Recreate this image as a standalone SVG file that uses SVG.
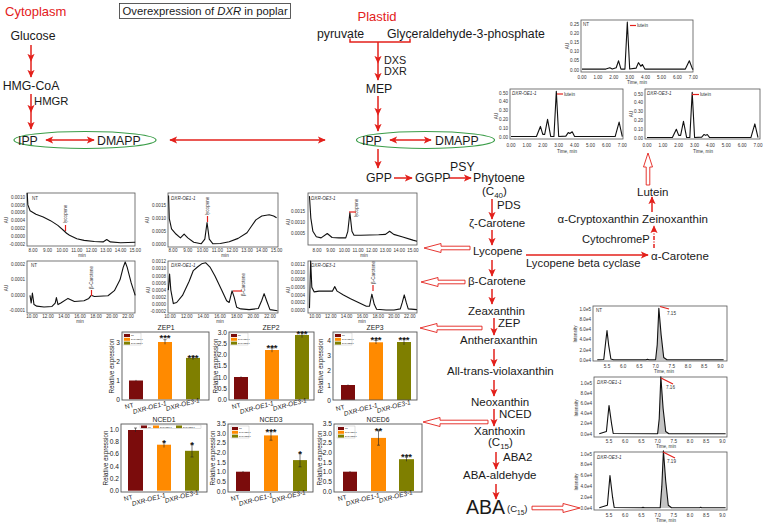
<svg xmlns="http://www.w3.org/2000/svg" xmlns:xlink="http://www.w3.org/1999/xlink" width="767" height="525" viewBox="0 0 767 525">
<style>
text{font-family:"Liberation Sans",Arial,sans-serif;fill:#1a1a1a}
.n{font-size:11.5px}
.m{font-size:12.3px}
.red{fill:#e3201b}
.c{stroke:#e3201b;stroke-width:1.5;fill:none;marker-end:url(#ah)}
.cm{marker-mid:url(#ah)}
.cs{marker-start:url(#ah)}
.hol{fill:#fff;stroke:#e3201b;stroke-width:0.9}
.box{fill:#fff;stroke:#555;stroke-width:0.8}
.tk{font-size:4.6px;fill:#333}
.tr{fill:none;stroke:#111;stroke-width:1.1;stroke-linejoin:round}
.pk{fill:#c4c4c4}
.it{font-style:italic}
.rm{stroke:#e3201b;stroke-width:1.2;fill:none}
.bt{font-size:6.8px}
.yt{font-size:6.6px}
.yl{font-size:6.3px}
.st{font-size:9.5px;font-weight:bold}
.xl{font-size:6.5px}
.lg{font-size:2.2px}
.nt{fill:#7b0c0c}.o1{fill:#ff8a00}.o3{fill:#7f7f00}
.eb{stroke:#222;stroke-width:0.6;fill:none}
.ell{fill:none;stroke:#3a9d48;stroke-width:1.2}
</style>
<defs>
<marker id="ah" viewBox="0 0 10 10" refX="9" refY="5" markerWidth="8" markerHeight="8" markerUnits="userSpaceOnUse" orient="auto-start-reverse">
<path d="M0,0.5 L10,5 L0,9.5 L2.5,5 z" fill="#e3201b"/>
</marker>
<g id="xlab">
<text class="xl" text-anchor="end" transform="translate(134,407) rotate(-15)">NT</text>
<text class="xl it" text-anchor="end" transform="translate(167,405) rotate(-15)">DXR-OE1-1</text>
<text class="xl it" text-anchor="end" transform="translate(200,402) rotate(-15)">DXR-OE3-1</text>
</g>
<g id="vleg">
<rect x="123" y="333" width="18" height="12" fill="#fff" stroke="#999" stroke-width="0.3"/>
<rect class="nt" x="124" y="334" width="6" height="3"/>
<rect class="o1" x="124" y="337.8" width="6" height="3"/>
<rect class="o3" x="124" y="341.6" width="6" height="3"/>
<text class="lg" x="131" y="336.4">NT</text>
<text class="lg" x="131" y="340.2">DXR-OE1-1</text>
<text class="lg" x="131" y="344">DXR-OE3-1</text>
</g>
</defs>
<rect width="767" height="525" fill="#fff"/>

<!-- headers -->
<g id="cytoplasm"><text x="5" y="16" class="red" font-size="13">Cytoplasm</text></g>
<g id="title"><rect x="119.5" y="3.5" width="171" height="15" fill="none" stroke="#333" stroke-width="0.8"/>
<text x="122.5" y="15" font-size="11.3">Overexpression of <tspan class="it">DXR</tspan> in poplar</text></g>
<g id="plastid"><text x="377" y="21" text-anchor="middle" class="red" font-size="13">Plastid</text></g>

<!-- connectors -->
<g id="connectors">
<path class="c cm" d="M31,45 L31,61 L31,77"/>
<path class="c cm" d="M31,94 L31,112 L31,129"/>
<path class="c cs" d="M46,140 H94"/>
<path class="c cs" d="M170,140 H325"/>
<path d="M350,38.5 V42 H410 V38.5" stroke="#e3201b" stroke-width="1.5" fill="none"/>
<path class="c cm" d="M378,42 L378,63 L378,80"/>
<path class="c cm" d="M378,96 L378,115 L378,131"/>
<path class="c cs" d="M390,140 H431"/>
<path class="c" d="M378,149 V168"/>
<path class="c" d="M394,178 H412"/>
<path class="c" d="M449,178 H471"/>
<path class="c" d="M492,199 V219"/>
<path class="c" d="M492,230 V245"/>
<path class="c" d="M492,260 V276"/>
<path class="c" d="M492,289 V304"/>
<path class="c" d="M494,318 V335"/>
<path class="c" d="M494,349 V366"/>
<path class="c" d="M494,380 V396"/>
<path class="c" d="M494,409 V426"/>
<path class="c" d="M496,452 V469"/>
<path class="c" d="M496,484 V499"/>
<path class="c" d="M526,255 H648"/>
<path class="c" d="M654,248 V226" stroke-dasharray="4,1.5,1,1.5"/>
<path class="c" d="M652,212 V197"/>
<polygon class="hol" points="470,246.2 441,246.2 441,243.5 424,248 441,252.5 441,249.8 470,249.8"/>
<polygon class="hol" points="465,280.2 438,280.2 438,277.5 421,282 438,286.5 438,283.8 465,283.8"/>
<polygon class="hol" points="482,326.2 437,326.2 437,323.5 420,328 437,332.5 437,329.8 482,329.8"/>
<polygon class="hol" points="488,420.2 440,420.2 440,417.5 423,422 440,426.5 440,423.8 488,423.8"/>
<polygon class="hol" points="532,506.2 563,506.2 563,503.5 580,508 563,512.5 563,509.8 532,509.8"/>
<polygon class="hol" points="646.2,185 646.2,167 643.5,167 648,153 652.5,167 649.8,167 649.8,185"/>
</g>

<!-- pathway nodes -->
<g id="n-glucose"><text class="m" x="33" y="40" text-anchor="middle">Glucose</text></g>
<g id="n-hmgcoa"><text class="m" x="31" y="90" text-anchor="middle">HMG-CoA</text></g>
<g id="n-hmgr"><text x="34" y="105" font-size="11.3">HMGR</text></g>
<g id="n-cyto-ipp"><ellipse class="ell" cx="85" cy="140" rx="71" ry="8.5"/>
<text class="m" x="18" y="145">IPP</text><text class="m" x="97" y="145">DMAPP</text></g>
<g id="n-pyruvate"><text class="m" x="317" y="38">pyruvate</text></g>
<g id="n-g3p"><text class="m" x="387" y="38">Glyceraldehyde-3-phosphate</text></g>
<g id="n-dxs"><text x="384" y="64" font-size="10.8">DXS</text><text x="384" y="75" font-size="10.8">DXR</text></g>
<g id="n-mep"><text class="m" x="379" y="93" text-anchor="middle">MEP</text></g>
<g id="n-pl-ipp"><ellipse class="ell" cx="425.5" cy="140" rx="69" ry="8.5"/>
<text class="m" x="362" y="145">IPP</text><text class="m" x="435" y="145">DMAPP</text></g>
<g id="n-gpp"><text class="m" x="366" y="182">GPP</text></g>
<g id="n-ggpp"><text class="m" x="415" y="182">GGPP</text></g>
<g id="n-psy"><text class="m" x="450" y="171">PSY</text></g>
<g id="n-phytoene"><text class="m" x="473" y="182">Phytoene</text>
<text class="n" x="482" y="195">(C<tspan font-size="8" dy="3">40</tspan><tspan dy="-3">)</tspan></text></g>
<g id="n-pds"><text class="n" x="497" y="209">PDS</text></g>
<g id="n-zcar"><text class="n" x="469" y="227">ζ-Carotene</text></g>
<g id="n-lycopene"><text class="n" x="473" y="255">Lycopene</text></g>
<g id="n-lcy"><text x="526" y="267" font-size="11.3">Lycopene beta cyclase</text></g>
<g id="n-acar"><text class="n" x="651" y="259.5">α-Carotene</text></g>
<g id="n-cyp"><text x="582" y="243" font-size="11.2">CytochromeP</text></g>
<g id="n-acrypt"><text class="n" x="639" y="223" text-anchor="end">α-Cryptoxanthin</text></g>
<g id="n-zein"><text class="n" x="642" y="223">Zeinoxanthin</text></g>
<g id="n-lutein"><text class="n" x="637" y="196">Lutein</text></g>
<g id="n-bcar"><text class="n" x="468" y="285">β-Carotene</text></g>
<g id="n-zea"><text class="n" x="468" y="315">Zeaxanthin</text></g>
<g id="n-zep"><text class="n" x="498" y="327">ZEP</text></g>
<g id="n-anth"><text class="n" x="460" y="344">Antheraxanthin</text></g>
<g id="n-viola"><text class="n" x="447" y="375">All-trans-violaxanthin</text></g>
<g id="n-neox"><text class="n" x="471" y="406">Neoxanthin</text></g>
<g id="n-nced"><text class="n" x="499" y="418">NCED</text></g>
<g id="n-xanth"><text class="n" x="474" y="435">Xanthoxin</text>
<text class="n" x="488" y="446">(C<tspan font-size="8" dy="3">15</tspan><tspan dy="-3">)</tspan></text></g>
<g id="n-aba2"><text class="n" x="503" y="461">ABA2</text></g>
<g id="n-abaald"><text class="n" x="463" y="479">ABA-aldehyde</text></g>
<g id="n-aba"><text x="466" y="514" font-size="19.5">ABA</text>
<text x="507" y="512" font-size="9.5">(C<tspan font-size="6.5" dy="2.5">15</tspan><tspan dy="-2.5">)</tspan></text></g>

<!-- lutein chromatograms -->
<g id="lut-nt">
<rect class="box" x="581" y="20" width="112" height="52"/>
<g transform="translate(582,70) scale(15.9,-184)"><polyline class="tr" vector-effect="non-scaling-stroke" points="0,0.005 1.5,0.005 1.75,0.012 1.9,0.005 2.15,0.012 2.3,0.05 2.45,0.005 2.7,0.005 2.85,0.26 3,0.005 3.4,0.01 3.55,0.04 3.7,0.02 3.8,0.03 3.95,0.005 6.5,0.005 6.75,0.05 6.95,0.005 7,0.005"/></g>
<g text-anchor="end"><text class="tk" x="579" y="25.6">0.25</text><text class="tk" x="579" y="34.8">0.20</text><text class="tk" x="579" y="44">0.15</text><text class="tk" x="579" y="53.2">0.10</text><text class="tk" x="579" y="62.4">0.05</text><text class="tk" x="579" y="71.6">0.00</text></g>
<g text-anchor="middle"><text class="tk" x="582" y="79">0.00</text><text class="tk" x="597.9" y="79">1.00</text><text class="tk" x="613.8" y="79">2.00</text><text class="tk" x="629.7" y="79">3.00</text><text class="tk" x="645.6" y="79">4.00</text><text class="tk" x="661.5" y="79">5.00</text><text class="tk" x="677.4" y="79">6.00</text><text class="tk" x="693.3" y="79">7.00</text>
<text class="tk" x="637" y="84">Time, min</text>
<text class="tk" transform="translate(569,46) rotate(-90)">AU</text></g>
<text class="tk" x="583" y="25.5">NT</text>
<path class="rm" d="M630,25.5 H636"/><text class="tk" x="637" y="27.3">lutein</text>
</g>
<g id="lut-oe1">
<rect class="box" x="510" y="89" width="113" height="50"/>
<g transform="translate(511,137) scale(15.9,-88)"><polyline class="tr" vector-effect="non-scaling-stroke" points="0,0.005 1.6,0.005 1.85,0.12 2,0.03 2.12,0.03 2.3,0.2 2.5,0.005 2.7,0.005 2.85,0.52 3,0.005 3.45,0.01 3.6,0.05 3.7,0.04 3.85,0.06 4,0.005 6.55,0.005 6.8,0.17 7,0.005"/></g>
<g text-anchor="end"><text class="tk" x="508" y="94.6">0.50</text><text class="tk" x="508" y="103.4">0.40</text><text class="tk" x="508" y="112.2">0.30</text><text class="tk" x="508" y="121">0.20</text><text class="tk" x="508" y="129.8">0.10</text><text class="tk" x="508" y="138.6">0.00</text></g>
<g text-anchor="middle"><text class="tk" x="511" y="147">0.00</text><text class="tk" x="526.9" y="147">1.00</text><text class="tk" x="542.8" y="147">2.00</text><text class="tk" x="558.7" y="147">3.00</text><text class="tk" x="574.6" y="147">4.00</text><text class="tk" x="590.5" y="147">5.00</text><text class="tk" x="606.4" y="147">6.00</text><text class="tk" x="622.3" y="147">7.00</text>
<text class="tk" x="567" y="152.5">Time, min</text>
<text class="tk" transform="translate(498,116) rotate(-90)">AU</text></g>
<text class="tk it" x="512" y="94.5">DXR-OE1-1</text>
<path class="rm" d="M557,94 H563"/><text class="tk" x="564" y="95.8">lutein</text>
</g>
<g id="lut-oe3">
<rect class="box" x="645" y="89" width="115" height="50"/>
<g transform="translate(647,138) scale(15.86,-88)"><polyline class="tr" vector-effect="non-scaling-stroke" points="0,0.005 1.6,0.005 1.85,0.1 2,0.03 2.12,0.03 2.3,0.19 2.5,0.005 2.7,0.005 2.85,0.52 3,0.005 3.45,0.01 3.6,0.04 3.7,0.03 3.8,0.04 3.95,0.005 6.55,0.005 6.8,0.16 7,0.005"/></g>
<g text-anchor="end"><text class="tk" x="643" y="95.6">0.50</text><text class="tk" x="643" y="104.4">0.40</text><text class="tk" x="643" y="113.2">0.30</text><text class="tk" x="643" y="122">0.20</text><text class="tk" x="643" y="130.8">0.10</text><text class="tk" x="643" y="139.6">0.00</text></g>
<g text-anchor="middle"><text class="tk" x="647" y="147">0.00</text><text class="tk" x="662.9" y="147">1.00</text><text class="tk" x="678.7" y="147">2.00</text><text class="tk" x="694.6" y="147">3.00</text><text class="tk" x="710.4" y="147">4.00</text><text class="tk" x="726.3" y="147">5.00</text><text class="tk" x="742.2" y="147">6.00</text><text class="tk" x="758" y="147">7.00</text>
<text class="tk" x="703" y="152.5">Time, min</text>
<text class="tk" transform="translate(633,114) rotate(-90)">AU</text></g>
<text class="tk it" x="647" y="94.5">DXR-OE3-1</text>
<path class="rm" d="M692,94.5 H699"/><text class="tk" x="700" y="96.3">lutein</text>
</g>

<!-- lycopene chromatograms -->
<g id="lyc-nt">
<rect class="box" x="27" y="193" width="108" height="53"/>
<g transform="translate(-83.8,236.4) scale(14.6,-3.94)"><polyline class="tr" vector-effect="non-scaling-stroke" points="7.6,11 7.65,8 7.8,6.5 8.2,5.6 8.7,4.9 9.2,4 9.7,2.8 10.1,1.5 10.3,0.8 10.5,0.3 11,-0.6 11.5,-1 12.2,-1.3 12.8,-1.4 13.05,-0.8 13.3,-1.4 14,-1.6 15,-1.5"/></g>
<g text-anchor="end"><text class="tk" x="25" y="198.6">0.0010</text><text class="tk" x="25" y="206.5">0.0008</text><text class="tk" x="25" y="214.4">0.0006</text><text class="tk" x="25" y="222.2">0.0004</text><text class="tk" x="25" y="230.1">0.0002</text><text class="tk" x="25" y="238">0.0000</text><text class="tk" x="25" y="245.9">-0.0002</text></g>
<g text-anchor="middle"><text class="tk" x="33" y="251.5">8.00</text><text class="tk" x="47.6" y="251.5">9.00</text><text class="tk" x="62.2" y="251.5">10.00</text><text class="tk" x="76.8" y="251.5">11.00</text><text class="tk" x="91.4" y="251.5">12.00</text><text class="tk" x="106" y="251.5">13.00</text><text class="tk" x="120.6" y="251.5">14.00</text><text class="tk" x="135.2" y="251.5">15.00</text>
<text class="tk" x="82" y="256.5">min</text>
<text class="tk" transform="translate(8,220) rotate(-90)">AU</text></g>
<text class="tk" x="32" y="199.5">NT</text>
<text class="tk" transform="translate(67,223) rotate(-90)">lycopene</text>
<path class="rm" d="M65.5,225 V231"/>
</g>
<g id="lyc-oe1">
<rect class="box" x="168" y="193" width="110" height="54"/>
<g transform="translate(54.6,244.3) scale(14.8,-2.57)"><polyline class="tr" vector-effect="non-scaling-stroke" points="7.7,19 7.75,10 7.9,6 8.2,4 8.5,2.5 8.75,4 9,2.5 9.4,0.8 9.9,0.2 10.15,2 10.3,8.5 10.45,2 10.7,0.2 11.2,0.3 11.8,1 12.4,2.3 13,4.5 13.3,7 13.6,9.5 14,11 14.5,11.5 14.8,11 15,10.3"/></g>
<g text-anchor="end"><text class="tk" x="166" y="207.4">0.0015</text><text class="tk" x="166" y="220.2">0.0010</text><text class="tk" x="166" y="233.1">0.0005</text><text class="tk" x="166" y="245.9">0.0000</text></g>
<g text-anchor="middle"><text class="tk" x="173" y="252">8.00</text><text class="tk" x="187.8" y="252">9.00</text><text class="tk" x="202.6" y="252">10.00</text><text class="tk" x="217.4" y="252">11.00</text><text class="tk" x="232.2" y="252">12.00</text><text class="tk" x="247" y="252">13.00</text><text class="tk" x="261.8" y="252">14.00</text><text class="tk" x="276.6" y="252">15.00</text>
<text class="tk" x="225" y="257">min</text>
<text class="tk" transform="translate(149,220) rotate(-90)">AU</text></g>
<text class="tk it" x="171" y="199.5">DXR-OE1-1</text>
<text class="tk" transform="translate(209,215) rotate(-90)">lycopene</text>
<path class="rm" d="M207.5,216 V222"/>
</g>
<g id="lyc-oe3">
<rect class="box" x="308" y="193" width="109" height="52"/>
<g transform="translate(207.4,244.5) scale(13.7,-2.2)"><polyline class="tr" vector-effect="non-scaling-stroke" points="7.45,22 7.55,12 7.7,6 7.95,3.5 8.3,3 8.75,5 9.1,3.2 9.6,3 10.1,3 10.25,6 10.4,14.5 10.55,6 10.7,4.2 11.2,4.2 12.5,4.4 13,4.6 13.3,6 13.6,4.6 14.2,3.5 15,2 15.3,1.5"/></g>
<g text-anchor="end"><text class="tk" x="305" y="213.1">0.0015</text><text class="tk" x="305" y="224.1">0.0010</text><text class="tk" x="305" y="235.1">0.0005</text></g>
<g text-anchor="middle"><text class="tk" x="317" y="252">8.00</text><text class="tk" x="330.7" y="252">9.00</text><text class="tk" x="344.4" y="252">10.00</text><text class="tk" x="358.1" y="252">11.00</text><text class="tk" x="371.8" y="252">12.00</text><text class="tk" x="385.5" y="252">13.00</text><text class="tk" x="399.2" y="252">14.00</text><text class="tk" x="412.9" y="252">15.00</text>
<text class="tk" x="364" y="257">min</text>
<text class="tk" transform="translate(290,222) rotate(-90)">AU</text></g>
<text class="tk it" x="311" y="199.5">DXR-OE3-1</text>
<text class="tk" transform="translate(358,217) rotate(-90)">lycopene</text>
<path class="rm" d="M349,212 H356"/>
</g>

<!-- beta-carotene chromatograms -->
<g id="bc-nt">
<rect class="box" x="27" y="261" width="108" height="52"/>
<g transform="translate(-48,295.3) scale(8,-1.55)"><polyline class="tr" vector-effect="non-scaling-stroke" points="9.75,0 9.9,-5 10.05,1.5 10.25,-6 10.6,-7 11.5,-7.5 12.5,-7.2 12.9,-5 13.05,-1.5 13.25,-6 13.6,-5 14.5,-2 15.3,-4 16.5,-3.5 17.1,-2 17.4,0 17.8,-0.8 19.5,-0.3 20.3,3 21,10 21.4,18 21.65,21.5 21.9,18 22.4,8 22.9,0"/></g>
<g text-anchor="end"><text class="tk" x="25" y="265.9">0.0002</text><text class="tk" x="25" y="281.4">0.0001</text><text class="tk" x="25" y="296.9">0.0000</text><text class="tk" x="25" y="312.4">-0.0001</text></g>
<g text-anchor="middle"><text class="tk" x="32" y="318">10.00</text><text class="tk" x="48" y="318">12.00</text><text class="tk" x="64" y="318">14.00</text><text class="tk" x="80" y="318">16.00</text><text class="tk" x="96" y="318">18.00</text><text class="tk" x="112" y="318">20.00</text><text class="tk" x="128" y="318">22.00</text>
<text class="tk" x="80" y="323">min</text>
<text class="tk" transform="translate(8,288) rotate(-90)">AU</text></g>
<text class="tk" x="31" y="267">NT</text>
<text class="tk" transform="translate(93,289) rotate(-90)">β-Carotene</text>
<path class="rm" d="M91.5,290 V296"/>
</g>
<g id="bc-oe1">
<rect class="box" x="168" y="261" width="110" height="52"/>
<g transform="translate(86.7,304.3) scale(8.33,-3.55)"><polyline class="tr" vector-effect="non-scaling-stroke" points="9.8,4 9.95,8.5 10.1,4 10.4,0.2 10.8,0.5 11.5,2.5 12.3,6.5 12.8,9.5 13.3,10.5 13.8,11.4 14.3,11.7 14.8,10.5 15.4,8 16.2,4 16.8,1 17.1,0.5 17.45,3.8 17.7,2 18,-0.8 18.5,-1.3 19.5,-1.5 20.6,-1.2 21,1 21.3,3 21.6,1 22,-1.5 22.9,-1.8"/></g>
<g text-anchor="end"><text class="tk" x="166" y="263.3">0.0012</text><text class="tk" x="166" y="270.4">0.0010</text><text class="tk" x="166" y="277.5">0.0008</text><text class="tk" x="166" y="284.6">0.0006</text><text class="tk" x="166" y="291.7">0.0004</text><text class="tk" x="166" y="298.8">0.0002</text><text class="tk" x="166" y="305.9">0.0000</text><text class="tk" x="166" y="313">-0.0002</text></g>
<g text-anchor="middle"><text class="tk" x="170" y="318">10.00</text><text class="tk" x="186.7" y="318">12.00</text><text class="tk" x="203.3" y="318">14.00</text><text class="tk" x="220" y="318">16.00</text><text class="tk" x="236.7" y="318">18.00</text><text class="tk" x="253.3" y="318">20.00</text><text class="tk" x="270" y="318">22.00</text>
<text class="tk" x="220" y="323">min</text>
<text class="tk" transform="translate(150,290) rotate(-90)">AU</text></g>
<text class="tk it" x="171" y="267">DXR-OE1-1</text>
<text class="tk" transform="translate(245,296) rotate(-90)">β-Carotene</text>
<path class="rm" d="M233,291 H242"/>
</g>
<g id="bc-oe3">
<rect class="box" x="308" y="261" width="109" height="52"/>
<g transform="translate(236,310) scale(7.9,-3.77)"><polyline class="tr" vector-effect="non-scaling-stroke" points="9.3,0.5 9.45,13 9.6,6 9.9,4.8 10.5,5 11.5,5 12.2,5 12.5,6.2 12.8,5 13.6,4 14.5,3 15.5,2 16.5,1 16.9,1 17.2,4.2 17.5,1.5 17.8,0.2 19,0 20,0 20.8,0.3 21.05,2 21.3,4 21.55,2 21.8,0.3 22.9,0.1"/></g>
<g text-anchor="end"><text class="tk" x="305" y="266.4">0.0012</text><text class="tk" x="305" y="273.9">0.0010</text><text class="tk" x="305" y="281.4">0.0008</text><text class="tk" x="305" y="289">0.0006</text><text class="tk" x="305" y="296.5">0.0004</text><text class="tk" x="305" y="304.1">0.0002</text><text class="tk" x="305" y="311.6">0.0000</text></g>
<g text-anchor="middle"><text class="tk" x="315" y="318">10.00</text><text class="tk" x="330.8" y="318">12.00</text><text class="tk" x="346.6" y="318">14.00</text><text class="tk" x="362.4" y="318">16.00</text><text class="tk" x="378.2" y="318">18.00</text><text class="tk" x="394" y="318">20.00</text><text class="tk" x="409.8" y="318">22.00</text>
<text class="tk" x="362" y="323">min</text>
<text class="tk" transform="translate(290,290) rotate(-90)">AU</text></g>
<text class="tk it" x="311" y="267">DXR-OE3-1</text>
<text class="tk" transform="translate(375,284) rotate(-90)">β-Carotene</text>
<path class="rm" d="M373,285 V291"/>
</g>

<!-- ABA chromatograms -->
<g id="aba-nt">
<rect class="box" x="593" y="306" width="134" height="55"/>
<g transform="translate(428.8,360) scale(32.4,-50.7)"><polygon class="pk" points="7,0 7.05,0.3 7.1,1.02 7.17,0.5 7.25,0.05 7.35,0"/><polyline class="tr" vector-effect="non-scaling-stroke" points="5.2,0.005 5.4,0.01 5.45,0.3 5.5,0.58 5.55,0.3 5.62,0.02 5.7,0.005 6.7,0.005 6.75,0.015 6.8,0.005 7,0.005 7.05,0.3 7.1,1.02 7.17,0.5 7.25,0.05 7.35,0.005 9.1,0.005"/></g>
<g text-anchor="end"><text class="tk" x="591" y="310.9">1.0e5</text><text class="tk" x="591" y="321">8.0e4</text><text class="tk" x="591" y="331.2">6.0e4</text><text class="tk" x="591" y="341.3">4.0e4</text><text class="tk" x="591" y="351.5">2.0e4</text><text class="tk" x="591" y="361.6">0.0e4</text></g>
<g text-anchor="middle"><text class="tk" x="607" y="367.5">5.5</text><text class="tk" x="623.2" y="367.5">6.0</text><text class="tk" x="639.4" y="367.5">6.5</text><text class="tk" x="655.6" y="367.5">7.0</text><text class="tk" x="671.8" y="367.5">7.5</text><text class="tk" x="688" y="367.5">8.0</text><text class="tk" x="704.2" y="367.5">8.5</text><text class="tk" x="720.4" y="367.5">9.0</text>
<text class="tk" x="664" y="372.5">Time, min</text>
<text class="tk" transform="translate(577,334) rotate(-90)">Intensity</text></g>
<text class="tk" x="596" y="312">NT</text>
<path class="rm" d="M660,306.5 L669,309"/><text class="tk" x="667" y="314.5">7.15</text>
</g>
<g id="aba-oe1">
<rect class="box" x="594" y="377" width="133" height="60"/>
<g transform="translate(430.8,434) scale(32.4,-51)"><polygon class="pk" points="7,0 7.05,0.3 7.1,1.12 7.17,0.5 7.25,0.05 7.35,0"/><polyline class="tr" vector-effect="non-scaling-stroke" points="5.2,0.005 5.42,0.05 5.5,0.56 5.58,0.2 5.63,0.01 7,0.005 7.05,0.3 7.1,1.12 7.17,0.5 7.25,0.05 7.35,0.005 9.1,0.005"/></g>
<g text-anchor="end"><text class="tk" x="592" y="384.6">1.0e5</text><text class="tk" x="592" y="394.8">8.0e4</text><text class="tk" x="592" y="405">6.0e4</text><text class="tk" x="592" y="415.2">4.0e4</text><text class="tk" x="592" y="425.4">2.0e4</text><text class="tk" x="592" y="435.6">0.0e4</text></g>
<g text-anchor="middle"><text class="tk" x="609" y="443">5.5</text><text class="tk" x="625.2" y="443">6.0</text><text class="tk" x="641.4" y="443">6.5</text><text class="tk" x="657.6" y="443">7.0</text><text class="tk" x="673.8" y="443">7.5</text><text class="tk" x="690" y="443">8.0</text><text class="tk" x="706.2" y="443">8.5</text><text class="tk" x="722.4" y="443">9.0</text>
<text class="tk" x="666" y="448">Time, min</text>
<text class="tk" transform="translate(578,408) rotate(-90)">Intensity</text></g>
<text class="tk it" x="597" y="384">DXR-OE1-1</text>
<path class="rm" d="M661,378 L673,384"/><text class="tk" x="666" y="388.5">7.16</text>
</g>
<g id="aba-oe3">
<rect class="box" x="594" y="452" width="133" height="58"/>
<g transform="translate(430.8,508) scale(32.4,-54)"><polygon class="pk" points="7.08,0 7.13,0.4 7.18,1.06 7.25,0.5 7.33,0.05 7.43,0"/><polyline class="tr" vector-effect="non-scaling-stroke" points="5.2,0.005 5.45,0.05 5.53,0.6 5.61,0.2 5.66,0.01 6.5,0.005 6.55,0.012 6.6,0.005 7.08,0.005 7.13,0.4 7.18,1.06 7.25,0.5 7.33,0.05 7.43,0.005 8.3,0.005 8.33,0.015 8.36,0.005 9.1,0.005"/></g>
<g text-anchor="end"><text class="tk" x="592" y="455.6">1.0e5</text><text class="tk" x="592" y="466.4">8.0e4</text><text class="tk" x="592" y="477.2">6.0e4</text><text class="tk" x="592" y="488">4.0e4</text><text class="tk" x="592" y="498.8">2.0e4</text><text class="tk" x="592" y="509.6">0.0e4</text></g>
<g text-anchor="middle"><text class="tk" x="609" y="516.5">5.5</text><text class="tk" x="625.2" y="516.5">6.0</text><text class="tk" x="641.4" y="516.5">6.5</text><text class="tk" x="657.6" y="516.5">7.0</text><text class="tk" x="673.8" y="516.5">7.5</text><text class="tk" x="690" y="516.5">8.0</text><text class="tk" x="706.2" y="516.5">8.5</text><text class="tk" x="722.4" y="516.5">9.0</text>
<text class="tk" x="666" y="521.5">Time, min</text>
<text class="tk" transform="translate(578,482) rotate(-90)">Intensity</text></g>
<text class="tk it" x="597" y="458.5">DXR-OE3-1</text>
<path class="rm" d="M663,452 L675,458"/><text class="tk" x="667" y="463">7.19</text>
</g>

<!-- bar charts -->
<g id="zep1">
<text class="bt" x="166" y="329.5" text-anchor="middle">ZEP1</text>
<rect x="129" y="380.5" width="14" height="18.8" class="nt"/>
<rect x="158" y="342" width="14" height="57.3" class="o1"/>
<rect x="186" y="357.9" width="14" height="41.4" class="o3"/>
<path class="eb" d="M136,379.9V381.1M165,339.7V344.3M163.5,339.7H166.5M193,356V359.8M191.5,356H194.5"/>
<rect x="122" y="332" width="87" height="68" fill="none" stroke="#555" stroke-width="0.9"/>
<use href="#vleg"/>
<g text-anchor="end"><text class="yt" x="120" y="401.8">0</text><text class="yt" x="120" y="383">1</text><text class="yt" x="120" y="364.2">2</text><text class="yt" x="120" y="345.4">3</text></g>
<text class="st" x="165" y="341" text-anchor="middle">***</text><text class="st" x="193" y="361" text-anchor="middle">***</text>
<text class="yl" transform="translate(114,366) rotate(-90)" text-anchor="middle">Relative expression</text>
<use href="#xlab"/>
</g>
<g id="zep2">
<text class="bt" x="271" y="329.5" text-anchor="middle">ZEP2</text>
<rect x="234" y="377" width="14" height="22.3" class="nt"/>
<rect x="265" y="350" width="14" height="49.3" class="o1"/>
<rect x="295" y="335" width="14" height="64.3" class="o3"/>
<path class="eb" d="M241,376.3V377.7M272,347.8V352.2M270.5,347.8H273.5M302,332.3V337.7M300.5,332.3H303.5"/>
<rect x="229" y="332" width="85" height="68" fill="none" stroke="#555" stroke-width="0.9"/>
<use href="#vleg" x="107"/>
<g text-anchor="end"><text class="yt" x="227" y="401.8">0.0</text><text class="yt" x="227" y="390.7">0.5</text><text class="yt" x="227" y="379.5">1.0</text><text class="yt" x="227" y="368.4">1.5</text><text class="yt" x="227" y="357.2">2.0</text><text class="yt" x="227" y="346.1">2.5</text><text class="yt" x="227" y="334.9">3.0</text></g>
<text class="st" x="272" y="350.5" text-anchor="middle">***</text><text class="st" x="302" y="337" text-anchor="middle">***</text>
<text class="yl" transform="translate(218,366) rotate(-90)" text-anchor="middle">Relative expression</text>
<use href="#xlab" x="107"/>
</g>
<g id="zep3">
<text class="bt" x="375" y="329.5" text-anchor="middle">ZEP3</text>
<rect x="341" y="385" width="14" height="15" class="nt"/>
<rect x="369" y="342.3" width="14" height="57.7" class="o1"/>
<rect x="397" y="342" width="14" height="58" class="o3"/>
<path class="eb" d="M348,384.4V385.6M376,340.5V344M374.5,340.5H377.5M404,339V345M402.5,339H405.5"/>
<rect x="333" y="332" width="84" height="68" fill="none" stroke="#555" stroke-width="0.9"/>
<use href="#vleg" x="211"/>
<g text-anchor="end"><text class="yt" x="331" y="402.5">0</text><text class="yt" x="331" y="387.5">1</text><text class="yt" x="331" y="372.5">2</text><text class="yt" x="331" y="357.5">3</text><text class="yt" x="331" y="342.5">4</text></g>
<text class="st" x="376" y="343" text-anchor="middle">***</text><text class="st" x="404" y="343" text-anchor="middle">***</text>
<text class="yl" transform="translate(323,366) rotate(-90)" text-anchor="middle">Relative expression</text>
<use href="#xlab" x="211" y="2"/>
</g>
<g id="nced1">
<text class="bt" x="164" y="421.5" text-anchor="middle">NCED1</text>
<rect x="128" y="430" width="15" height="60.7" class="nt"/>
<rect x="157" y="444.7" width="14" height="46" class="o1"/>
<rect x="185" y="450.8" width="14" height="39.9" class="o3"/>
<path class="eb" d="M135.5,428V432M134,428H137M164,442V447.5M162.5,442H165.5M192,444.6V457M190.5,444.6H193.5M190.5,457H193.5"/>
<rect x="121" y="424" width="86" height="68" fill="none" stroke="#555" stroke-width="0.9"/>
<rect x="140" y="425" width="61" height="3.6" fill="#fff" stroke="#999" stroke-width="0.3"/>
<rect class="nt" x="141" y="425.5" width="6" height="2.6"/><text class="lg" x="148" y="427.6">NT</text>
<rect class="o1" x="153" y="425.5" width="6" height="2.6"/><text class="lg" x="160" y="427.6">DXR-OE1-1</text>
<rect class="o3" x="176" y="425.5" width="6" height="2.6"/><text class="lg" x="183" y="427.6">DXR-OE3-1</text>
<g text-anchor="end"><text class="yt" x="119" y="493.2">0.0</text><text class="yt" x="119" y="480.9">0.2</text><text class="yt" x="119" y="468.6">0.4</text><text class="yt" x="119" y="456.4">0.6</text><text class="yt" x="119" y="444.1">0.8</text><text class="yt" x="119" y="431.8">1.0</text></g>
<text class="st" x="164" y="446" text-anchor="middle">*</text><text class="st" x="192" y="448" text-anchor="middle">*</text>
<text class="yl" transform="translate(108,458) rotate(-90)" text-anchor="middle">Relative expression</text>
<use href="#xlab" x="-1" y="92"/>
</g>
<g id="nced3">
<text class="bt" x="271" y="421.5" text-anchor="middle">NCED3</text>
<rect x="236" y="471.7" width="14" height="19.3" class="nt"/>
<rect x="264" y="435.4" width="14" height="55.6" class="o1"/>
<rect x="293" y="460.1" width="14" height="30.9" class="o3"/>
<path class="eb" d="M243,471V472.4M271,430.6V440.2M269.5,430.6H272.5M269.5,440.2H272.5M300,453.3V466.8M298.5,453.3H301.5M298.5,466.8H301.5"/>
<rect x="228" y="424" width="85" height="68" fill="none" stroke="#555" stroke-width="0.9"/>
<use href="#vleg" x="108" y="93"/>
<g text-anchor="end"><text class="yt" x="226" y="493.5">0.0</text><text class="yt" x="226" y="483.9">0.5</text><text class="yt" x="226" y="474.2">1.0</text><text class="yt" x="226" y="464.6">1.5</text><text class="yt" x="226" y="454.9">2.0</text><text class="yt" x="226" y="445.3">2.5</text><text class="yt" x="226" y="435.6">3.0</text><text class="yt" x="226" y="425.9">3.5</text></g>
<text class="st" x="271" y="435" text-anchor="middle">***</text><text class="st" x="300" y="457" text-anchor="middle">*</text>
<text class="yl" transform="translate(215,458) rotate(-90)" text-anchor="middle">Relative expression</text>
<use href="#xlab" x="106" y="92"/>
</g>
<g id="nced6">
<text class="bt" x="378" y="421.5" text-anchor="middle">NCED6</text>
<rect x="343" y="471.7" width="14" height="19.3" class="nt"/>
<rect x="371" y="437.9" width="15" height="53.1" class="o1"/>
<rect x="399" y="459.2" width="15" height="31.8" class="o3"/>
<path class="eb" d="M350,471V472.4M378.5,430.6V445.2M377,430.6H380M377,445.2H380M406.5,457V461.3M405,457H408"/>
<rect x="334" y="424" width="88" height="68" fill="none" stroke="#555" stroke-width="0.9"/>
<use href="#vleg" x="214" y="93"/>
<g text-anchor="end"><text class="yt" x="332" y="493.5">0.0</text><text class="yt" x="332" y="483.9">0.5</text><text class="yt" x="332" y="474.2">1.0</text><text class="yt" x="332" y="464.6">1.5</text><text class="yt" x="332" y="454.9">2.0</text><text class="yt" x="332" y="445.3">2.5</text><text class="yt" x="332" y="435.6">3.0</text><text class="yt" x="332" y="425.9">3.5</text></g>
<text class="st" x="378.5" y="434" text-anchor="middle">**</text><text class="st" x="406.5" y="460" text-anchor="middle">***</text>
<text class="yl" transform="translate(322,458) rotate(-90)" text-anchor="middle">Relative expression</text>
<use href="#xlab" x="213" y="92"/>
</g>
</svg>
